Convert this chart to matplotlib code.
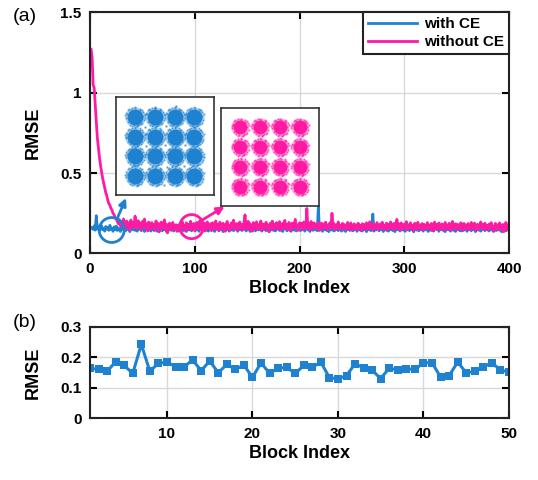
import matplotlib
matplotlib.use('Agg')
import matplotlib.pyplot as plt
from matplotlib.patches import Ellipse
from matplotlib.ticker import FuncFormatter
import numpy as np

# ---- datos ----
with_ce = [
    0.162, 0.158, 0.150, 0.171, 0.145, 0.235, 0.152, 0.166, 0.141, 0.159, 0.173, 0.148, 0.156, 0.139, 0.168, 0.151, 0.162, 0.144, 0.175, 0.150,
    0.157, 0.138, 0.165, 0.149, 0.170, 0.143, 0.158, 0.152, 0.137, 0.163, 0.155, 0.146, 0.169, 0.141, 0.158, 0.150, 0.164, 0.136, 0.160, 0.153,
    0.147, 0.172, 0.144, 0.157, 0.139, 0.166, 0.151, 0.160, 0.142, 0.155, 0.168, 0.137, 0.158, 0.149, 0.163, 0.145, 0.171, 0.140, 0.154, 0.159,
    0.143, 0.167, 0.150, 0.138, 0.161, 0.153, 0.146, 0.170, 0.141, 0.157, 0.149, 0.164, 0.136, 0.159, 0.152, 0.145, 0.168, 0.147, 0.156, 0.140,
    0.162, 0.151, 0.144, 0.173, 0.139, 0.158, 0.148, 0.165, 0.142, 0.155, 0.161, 0.137, 0.169, 0.150, 0.146, 0.163, 0.141, 0.157, 0.152, 0.166,
    0.144, 0.159, 0.171, 0.138, 0.153, 0.147, 0.162, 0.140, 0.168, 0.151, 0.145, 0.174, 0.139, 0.156, 0.160, 0.143, 0.165, 0.149, 0.137, 0.158,
    0.152, 0.167, 0.141, 0.155, 0.148, 0.170, 0.136, 0.161, 0.153, 0.144, 0.166, 0.150, 0.139, 0.159, 0.147, 0.172, 0.142, 0.157, 0.151, 0.163,
    0.138, 0.156, 0.149, 0.168, 0.143, 0.160, 0.152, 0.175, 0.140, 0.154, 0.147, 0.164, 0.137, 0.158, 0.150, 0.145, 0.169, 0.141, 0.155, 0.161,
    0.146, 0.153, 0.170, 0.139, 0.157, 0.148, 0.163, 0.142, 0.159, 0.151, 0.136, 0.166, 0.149, 0.155, 0.144, 0.171, 0.140, 0.158, 0.152, 0.165,
    0.143, 0.160, 0.147, 0.137, 0.162, 0.154, 0.168, 0.141, 0.156, 0.149, 0.173, 0.138, 0.157, 0.151, 0.145, 0.164, 0.140, 0.159, 0.153, 0.167,
    0.142, 0.155, 0.150, 0.169, 0.139, 0.161, 0.171, 0.146, 0.158, 0.137, 0.165, 0.152, 0.144, 0.160, 0.148, 0.170, 0.141, 0.290, 0.153, 0.147,
    0.162, 0.138, 0.156, 0.150, 0.167, 0.143, 0.159, 0.136, 0.164, 0.151, 0.145, 0.172, 0.140, 0.157, 0.149, 0.163, 0.142, 0.155, 0.168, 0.139,
    0.153, 0.146, 0.161, 0.137, 0.158, 0.150, 0.166, 0.143, 0.156, 0.171, 0.141, 0.152, 0.147, 0.163, 0.138, 0.159, 0.151, 0.145, 0.169, 0.140,
    0.157, 0.148, 0.164, 0.136, 0.155, 0.150, 0.167, 0.142, 0.158, 0.245, 0.139, 0.161, 0.146, 0.153, 0.170, 0.141, 0.156, 0.149, 0.165, 0.137,
    0.152, 0.160, 0.144, 0.168, 0.139, 0.157, 0.150, 0.163, 0.143, 0.172, 0.136, 0.154, 0.161, 0.147, 0.158, 0.140, 0.166, 0.151, 0.145, 0.162,
    0.138, 0.159, 0.153, 0.170, 0.142, 0.156, 0.148, 0.164, 0.135, 0.160, 0.151, 0.145, 0.167, 0.141, 0.157, 0.149, 0.171, 0.139, 0.154, 0.162,
    0.146, 0.158, 0.137, 0.165, 0.152, 0.143, 0.169, 0.140, 0.155, 0.160, 0.148, 0.173, 0.138, 0.157, 0.150, 0.163, 0.144, 0.159, 0.136, 0.166,
    0.153, 0.147, 0.162, 0.139, 0.170, 0.151, 0.144, 0.158, 0.137, 0.165, 0.149, 0.156, 0.142, 0.168, 0.140, 0.161, 0.152, 0.146, 0.172, 0.138,
    0.157, 0.150, 0.164, 0.141, 0.155, 0.148, 0.169, 0.136, 0.160, 0.153, 0.145, 0.167, 0.139, 0.158, 0.151, 0.163, 0.142, 0.156, 0.149, 0.171,
    0.140, 0.159, 0.147, 0.165, 0.137, 0.154, 0.161, 0.143, 0.168, 0.150, 0.145, 0.158, 0.135, 0.163, 0.152, 0.170, 0.141, 0.148, 0.160, 0.155,
]

without_ce = [
    1.27, 1.22, 1.05, 1.03, 0.92, 0.82, 0.72, 0.66, 0.60, 0.55, 0.51, 0.47, 0.44, 0.41, 0.38, 0.36, 0.33, 0.31, 0.30, 0.28,
    0.27, 0.25, 0.24, 0.22, 0.215, 0.20, 0.185, 0.210, 0.172, 0.198, 0.165, 0.215, 0.180, 0.152, 0.202, 0.170, 0.190, 0.145, 0.208, 0.174,
    0.194, 0.160, 0.232, 0.178, 0.155, 0.204, 0.168, 0.190, 0.146, 0.199, 0.172, 0.214, 0.158, 0.184, 0.140, 0.196, 0.169, 0.152, 0.192, 0.163,
    0.180, 0.145, 0.202, 0.166, 0.188, 0.135, 0.176, 0.195, 0.155, 0.172, 0.209, 0.150, 0.183, 0.128, 0.170, 0.189, 0.158, 0.144, 0.193, 0.166,
    0.150, 0.179, 0.138, 0.174, 0.156, 0.186, 0.145, 0.198, 0.162, 0.177, 0.142, 0.191, 0.158, 0.181, 0.148, 0.200, 0.165, 0.152, 0.187, 0.141,
    0.173, 0.193, 0.153, 0.168, 0.204, 0.147, 0.181, 0.160, 0.189, 0.140, 0.175, 0.196, 0.154, 0.170, 0.185, 0.143, 0.191, 0.163, 0.151, 0.202,
    0.158, 0.180, 0.142, 0.194, 0.167, 0.150, 0.188, 0.170, 0.138, 0.183, 0.199, 0.155, 0.176, 0.145, 0.191, 0.162, 0.207, 0.152, 0.171, 0.186,
    0.144, 0.177, 0.195, 0.157, 0.182, 0.148, 0.189, 0.240, 0.153, 0.175, 0.200, 0.146, 0.185, 0.164, 0.139, 0.192, 0.168, 0.155, 0.197, 0.150,
    0.179, 0.159, 0.202, 0.143, 0.184, 0.167, 0.152, 0.194, 0.160, 0.177, 0.135, 0.188, 0.166, 0.201, 0.147, 0.182, 0.162, 0.192, 0.153, 0.176,
    0.198, 0.145, 0.172, 0.187, 0.157, 0.206, 0.151, 0.180, 0.164, 0.193, 0.141, 0.175, 0.189, 0.154, 0.183, 0.212, 0.159, 0.178, 0.144, 0.191,
    0.166, 0.188, 0.149, 0.195, 0.171, 0.156, 0.280, 0.161, 0.186, 0.146, 0.199, 0.168, 0.153, 0.190, 0.175, 0.158, 0.181, 0.193, 0.143, 0.174,
    0.189, 0.152, 0.183, 0.167, 0.195, 0.149, 0.177, 0.160, 0.191, 0.155, 0.250, 0.170, 0.185, 0.145, 0.178, 0.163, 0.196, 0.153, 0.176, 0.159,
    0.187, 0.147, 0.180, 0.168, 0.157, 0.193, 0.151, 0.174, 0.190, 0.144, 0.167, 0.184, 0.155, 0.178, 0.148, 0.188, 0.163, 0.175, 0.141, 0.185,
    0.159, 0.180, 0.150, 0.191, 0.169, 0.153, 0.197, 0.161, 0.177, 0.145, 0.186, 0.166, 0.155, 0.192, 0.171, 0.149, 0.183, 0.162, 0.194, 0.152,
    0.176, 0.158, 0.189, 0.145, 0.181, 0.165, 0.196, 0.153, 0.170, 0.187, 0.148, 0.178, 0.212, 0.160, 0.184, 0.143, 0.190, 0.168, 0.154, 0.182,
    0.163, 0.198, 0.147, 0.179, 0.159, 0.191, 0.152, 0.175, 0.142, 0.188, 0.167, 0.156, 0.194, 0.150, 0.177, 0.164, 0.186, 0.144, 0.181, 0.170,
    0.154, 0.192, 0.160, 0.177, 0.146, 0.187, 0.168, 0.140, 0.195, 0.158, 0.180, 0.149, 0.190, 0.166, 0.155, 0.184, 0.172, 0.143, 0.193, 0.162,
    0.178, 0.151, 0.188, 0.165, 0.145, 0.199, 0.157, 0.175, 0.185, 0.148, 0.181, 0.163, 0.153, 0.191, 0.170, 0.142, 0.187, 0.159, 0.177, 0.150,
    0.186, 0.167, 0.147, 0.193, 0.174, 0.156, 0.189, 0.162, 0.144, 0.182, 0.171, 0.152, 0.196, 0.166, 0.179, 0.149, 0.188, 0.158, 0.176, 0.145,
    0.183, 0.163, 0.192, 0.153, 0.171, 0.140, 0.187, 0.159, 0.178, 0.147, 0.190, 0.166, 0.151, 0.181, 0.135, 0.173, 0.193, 0.157, 0.146, 0.185,
]
blocks = np.arange(1, len(with_ce) + 1)

# (b) primeros 50 bloques
rmse_b = [0.164, 0.160, 0.154, 0.185, 0.173, 0.147, 0.242, 0.154, 0.180, 0.184,
          0.169, 0.169, 0.191, 0.156, 0.188, 0.149, 0.177, 0.160, 0.174, 0.134,
          0.182, 0.147, 0.164, 0.167, 0.147, 0.173, 0.167, 0.184, 0.133, 0.129,
          0.140, 0.179, 0.165, 0.157, 0.130, 0.165, 0.157, 0.162, 0.160, 0.182,
          0.182, 0.135, 0.140, 0.184, 0.149, 0.154, 0.168, 0.182, 0.158, 0.152]
blocks_b = np.arange(1, len(rmse_b) + 1)

# constelacion 16-QAM
qam_levels = [-3, -1, 1, 3]
halo_dx = [0.80, 0.55, 0.05, -0.45, -0.82, -0.70, -0.15, 0.40, 0.92, 0.85, 0.25, -0.30, -0.98, -0.90,
           -0.50, 0.02, 0.62, 1.00, 0.18, -0.72, 0.78, -0.28, 0.50, -1.02, 0.70, -0.60, 0.35, -0.10]
halo_dy = [0.08, 0.65, 0.88, 0.72, 0.25, -0.55, -0.86, -0.78, -0.35, 0.45, -0.95, 0.90, -0.12, 0.40,
           -0.82, 1.00, -0.80, 0.28, -1.00, 0.70, -0.62, -0.97, 0.85, 0.15, 0.72, 0.80, -0.90, -0.30]
stray_x = [0.0, -2.0, 2.0, 0.1, -1.9, 2.1, -3.9, 4.0, 0.2, -0.1, 1.1, -1.0, 3.0, -3.1]
stray_y = [0.1, 2.0, -2.0, 2.1, 0.0, 0.1, 1.0, -1.1, -2.1, -3.9, 4.1, 3.9, 2.0, -1.9]

BLUE = '#1f82d0'
PINK = '#ff1aa3'

plt.rcParams['font.family'] = ['Liberation Sans', 'DejaVu Sans']
plt.rcParams['font.weight'] = 'bold'

fig = plt.figure(figsize=(5.38, 4.8), dpi=100)
ax1 = fig.add_axes([0.1673, 0.4719, 0.7788, 0.5025])
ax2 = fig.add_axes([0.1673, 0.1285, 0.7788, 0.1909])

def estilo(ax):
    ax.grid(True, color='#d9d9d9', lw=1)
    ax.set_axisbelow(True)
    ax.tick_params(direction='in', top=True, right=True, length=5, width=1.5,
                   labelsize=11, pad=6)
    for s in ax.spines.values():
        s.set_linewidth(1.5)
        s.set_color('#222222')
    ax.yaxis.set_major_formatter(FuncFormatter(lambda v, p: '%g' % v))

# ---- (a) ----
ax1.plot(blocks, with_ce, color=BLUE, lw=2.0, label='with CE')
ax1.plot(blocks, without_ce, color=PINK, lw=2.0, label='without CE')
ax1.set_xlim(0, 400)
ax1.set_ylim(0, 1.5)
ax1.set_xticks([0, 100, 200, 300, 400])
ax1.set_yticks([0, 0.5, 1, 1.5])
estilo(ax1)
ax1.set_xlabel('Block Index', fontsize=13, fontweight='bold', labelpad=3)
ax1.set_ylabel('RMSE', fontsize=13, fontweight='bold')
ax1.yaxis.set_label_coords(-0.115, 0.5)
leg = ax1.legend(loc='upper right', borderaxespad=0, fancybox=False, framealpha=1,
                 edgecolor='#222222', fontsize=11, handlelength=3.2, borderpad=0.3,
                 labelspacing=0.3, handletextpad=0.5)
leg.get_frame().set_linewidth(1.5)

# circulos y flechas
ax1.add_patch(Ellipse((20.7, 0.146), 23.9, 0.155, fill=False, ec=BLUE, lw=2, zorder=5))
ax1.add_patch(Ellipse((97, 0.167), 22.5, 0.15, fill=False, ec=PINK, lw=2, zorder=5))
ax1.annotate('', xy=(34.4, 0.345), xytext=(25.8, 0.215),
             arrowprops=dict(arrowstyle='-|>', color=BLUE, lw=2, mutation_scale=11,
                             shrinkA=0, shrinkB=0), zorder=6)
ax1.annotate('', xy=(128.5, 0.292), xytext=(104.5, 0.198),
             arrowprops=dict(arrowstyle='-|>', color=PINK, lw=2, mutation_scale=11,
                             shrinkA=0, shrinkB=0), zorder=6)

# insets de constelacion
def constelacion(rect, color, core_ms, halo_scale, con_ruido):
    axi = fig.add_axes(rect)
    cx = [a for a in qam_levels for b in qam_levels]
    cy = [b for a in qam_levels for b in qam_levels]
    hx = [c + d * halo_scale for c in cx for d in halo_dx]
    hy = [c + d * halo_scale for c in cy for d in halo_dy]
    axi.plot(cx, cy, 'o', color=color, ms=core_ms + 3, mew=0, alpha=0.35)
    axi.plot(hx, hy, 's', color=color, ms=1.3, mew=0, alpha=0.7)
    axi.plot(cx, cy, 'o', color=color, ms=core_ms, mew=0)
    if con_ruido:
        axi.plot(stray_x, stray_y, 's', color=color, ms=1.4, mew=0, alpha=0.8)
    axi.set_xlim(-4.95, 4.95)
    axi.set_ylim(-4.95, 4.95)
    axi.set_xticks([])
    axi.set_yticks([])
    for s in axi.spines.values():
        s.set_linewidth(1.2)
        s.set_color('#333333')
    return axi

constelacion([0.215, 0.593, 0.182, 0.204], BLUE, 11.5, 0.97, True)
constelacion([0.411, 0.571, 0.1826, 0.204], PINK, 10, 0.88, False)

# ---- (b) ----
ax2.plot(blocks_b, rmse_b, '-s', color=BLUE, lw=2.2, ms=6, mew=0)
ax2.set_xlim(1, 50)
ax2.set_ylim(0, 0.3)
ax2.set_xticks([10, 20, 30, 40, 50])
ax2.set_yticks([0, 0.1, 0.2, 0.3])
estilo(ax2)
ax2.set_xlabel('Block Index', fontsize=13, fontweight='bold', labelpad=3)
ax2.set_ylabel('RMSE', fontsize=13, fontweight='bold')
ax2.yaxis.set_label_coords(-0.115, 0.5)

fig.text(0.024, 0.965, '(a)', fontsize=14, fontweight='normal', va='center')
fig.text(0.024, 0.329, '(b)', fontsize=14, fontweight='normal', va='center')

fig.savefig('out.png', dpi=100)
